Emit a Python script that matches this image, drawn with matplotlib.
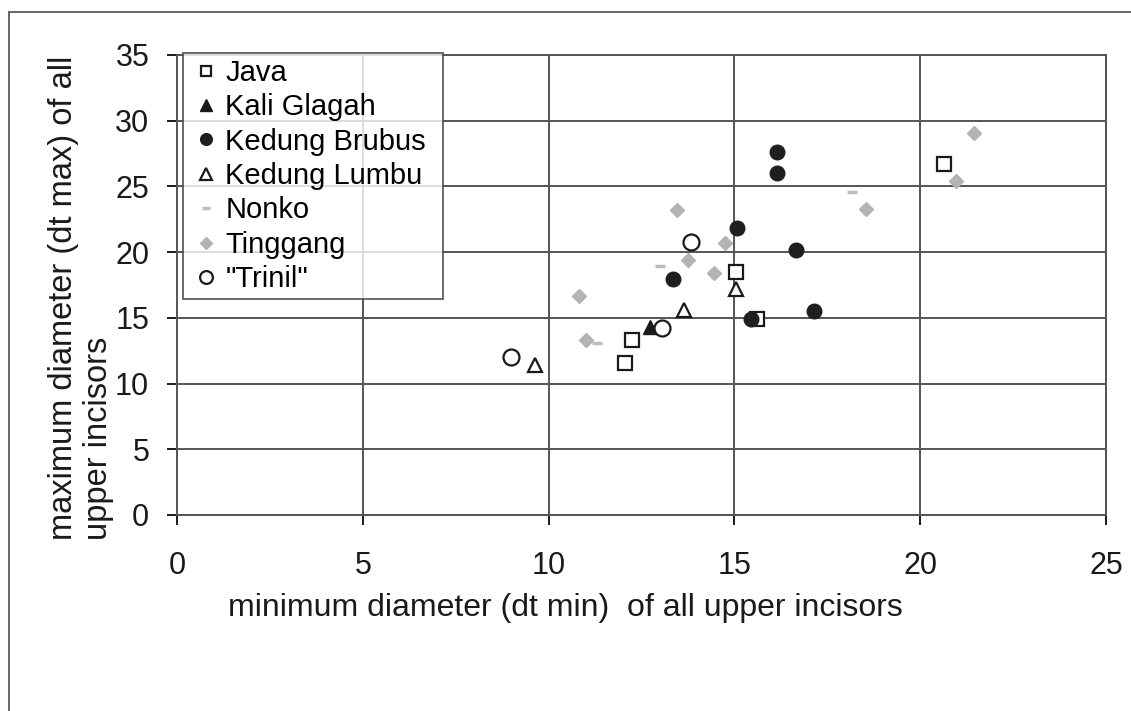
import matplotlib.pyplot as plt
from matplotlib.lines import Line2D

plt.rcParams['font.family'] = ['Liberation Sans', 'DejaVu Sans']

# data
java_x = [20.65, 15.05, 15.6, 12.24, 12.05]
java_y = [26.7, 18.5, 14.95, 13.3, 11.6]

kali_x = [12.73]
kali_y = [14.3]

brubus_x = [16.15, 16.15, 15.06, 16.66, 15.44, 17.14, 13.34]
brubus_y = [27.6, 26.05, 21.8, 20.2, 14.9, 15.5, 17.95]

lumbu_x = [9.63, 13.65, 15.05]
lumbu_y = [11.4, 15.6, 17.2]

nonko_x = [13.0, 11.3, 18.16]
nonko_y = [18.95, 13.1, 24.6]

tinggang_x = [13.45, 14.75, 13.74, 14.45, 10.83, 11.0, 18.54, 21.46, 20.96]
tinggang_y = [23.2, 20.7, 19.4, 18.4, 16.67, 13.3, 23.3, 29.1, 25.4]

trinil_x = [13.83, 13.04, 9.0]
trinil_y = [20.8, 14.25, 12.05]

W, H = 1131, 711
fig = plt.figure(figsize=(W / 100, H / 100), dpi=100)
ax = fig.add_axes([177 / W, 1 - 515 / H, (1106 - 177) / W, (515 - 55) / H])

grid_col = '#555555'
ax.plot(java_x, java_y, 's', ms=9.5, mfc='white', mec='#1a1a1a', mew=1.6, label='Java', zorder=3)
ax.plot(kali_x, kali_y, '^', ms=10, mfc='#1a1a1a', mec='#1a1a1a', label='Kali Glagah', zorder=3)
ax.plot(brubus_x, brubus_y, 'o', ms=10.5, mfc='#1f1f1f', mec='#1f1f1f', label='Kedung Brubus', zorder=3)
ax.plot(lumbu_x, lumbu_y, '^', ms=10, mfc='white', mec='#1a1a1a', mew=1.6, label='Kedung Lumbu', zorder=3)
ax.plot(nonko_x, nonko_y, '_', ms=7, mec='#bdbdbd', mew=2.5, label='Nonko', zorder=3)
ax.plot(tinggang_x, tinggang_y, 'D', ms=7.5, mfc='#b3b3b3', mec='#b3b3b3', label='Tinggang', zorder=3)
ax.plot(trinil_x, trinil_y, 'o', ms=11.5, mfc='white', mec='#1a1a1a', mew=1.6, label='"Trinil"', zorder=3)

ax.set_xlim(0, 25)
ax.set_ylim(0, 35)
ax.set_xticks(range(0, 26, 5))
ax.set_yticks(range(0, 36, 5))
ax.grid(True, color=grid_col, lw=1.4)
ax.set_axisbelow(True)
for s in ax.spines.values():
    s.set_color(grid_col)
    s.set_linewidth(1.4)
ax.tick_params(labelsize=22, colors='#1a1a1a', length=7, width=1.4, pad=13)
ax.tick_params(axis='x', pad=19)
for t in ax.get_xticklines() + ax.get_yticklines():
    t.set_color(grid_col)

fig.text(565 / W, 1 - 608 / H, 'minimum diameter (dt min)  of all upper incisors',
         fontsize=23, ha='center', va='center', color='#1a1a1a')
fig.text(81 / W, 1 - 540 / H, 'maximum diameter (dt max) of all\nupper incisors',
         fontsize=23.5, rotation=90, ha='center', va='bottom', multialignment='left',
         color='#1a1a1a', linespacing=1.2)

leg = ax.legend(loc='upper left', bbox_to_anchor=(183 / W, 1 - 297 / H, 260 / W, 244 / H),
                bbox_transform=fig.transFigure, mode='expand', fontsize=21, frameon=True,
                fancybox=False, edgecolor='#444444', handlelength=1.2,
                handletextpad=0.05, labelspacing=0.22, borderpad=0.2,
                borderaxespad=0, markerscale=0.8)
leg.get_frame().set_linewidth(1.4)

# outer chart border
fig.add_artist(Line2D([9 / W, 9 / W], [0, 1 - 12 / H], color='#666666', lw=1.4))
fig.add_artist(Line2D([9 / W, 1], [1 - 12 / H, 1 - 12 / H], color='#666666', lw=1.4))

fig.savefig('out.png', dpi=100)
